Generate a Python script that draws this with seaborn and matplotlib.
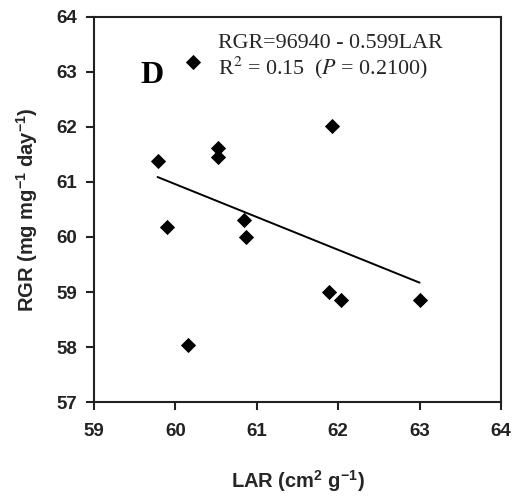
import matplotlib
matplotlib.use("Agg")
import matplotlib.pyplot as plt
import seaborn as sns
import pandas as pd

lar = [59.78, 59.90, 60.15, 60.21, 60.52, 60.52, 60.84, 60.87, 61.92, 61.89, 62.03, 63.00]
rgr = [61.38, 60.18, 58.03, 63.18, 61.62, 61.45, 60.30, 60.00, 62.02, 59.00, 58.85, 58.85]
fit_x = [59.78, 63.00]
fit_y = [61.09, 59.17]
x_ticks = [59, 60, 61, 62, 63, 64]
y_ticks = [57, 58, 59, 60, 61, 62, 63, 64]

sns.set_style("ticks")
plt.rcParams['font.family'] = ['Liberation Sans', 'DejaVu Sans']
plt.rcParams['mathtext.fontset'] = 'custom'
plt.rcParams['mathtext.bf'] = 'Liberation Sans:bold'
plt.rcParams['mathtext.rm'] = 'Liberation Sans'

df = pd.DataFrame({"LAR": lar, "RGR": rgr})
fig = plt.figure(figsize=(5.17, 4.97), dpi=100)
ax = fig.add_axes([0.182, 0.191, 0.787, 0.775])

sns.lineplot(x=fit_x, y=fit_y, ax=ax, color="black", linewidth=1.4)
sns.scatterplot(data=df, x="LAR", y="RGR", ax=ax, marker="D", s=60,
                color="black", edgecolor="black", linewidth=0, zorder=3)

ax.set_xlim(59, 64)
ax.set_ylim(57, 64)
ax.set_xticks(x_ticks)
ax.set_yticks(y_ticks)
ax.set_xticklabels([str(t) for t in x_ticks], fontsize=13.5, fontweight="bold", color="#222222")
ax.set_yticklabels([str(t) for t in y_ticks], fontsize=13.5, fontweight="bold", color="#222222")
ax.tick_params(axis="x", direction="out", length=6, width=1.5, color="#222222", pad=9)
ax.tick_params(axis="y", direction="out", length=6, width=1.5, color="#222222", pad=6)
for sp in ax.spines.values():
    sp.set_linewidth(1.5)
    sp.set_color("#222222")

ax.set_xlabel(r"LAR (cm$^{\mathbf{2}}$ g$^{\mathbf{-1}}$)", fontsize=14.5, fontweight="bold", labelpad=20)
ax.set_ylabel(r"RGR (mg mg$^{\mathbf{-1}}$ day$^{\mathbf{-1}}$)", fontsize=14.5, fontweight="bold", labelpad=12)

ax.text(0.115, 0.847, "D", transform=ax.transAxes, fontsize=23, fontweight="bold",
        family="Liberation Serif", va="center", ha="left", color="black")
ax.text(0.305, 0.932, "RGR=96940 - 0.599LAR", transform=ax.transAxes, fontsize=15.8,
        family="Liberation Serif", va="center", ha="left")
ax.text(0.305, 0.868, r"R$^2$ = 0.15  ($\it{P}$ = 0.2100)", transform=ax.transAxes, fontsize=15.8,
        family="Liberation Serif", va="center", ha="left", math_fontfamily="stix")

fig.savefig("out.png", dpi=100)
